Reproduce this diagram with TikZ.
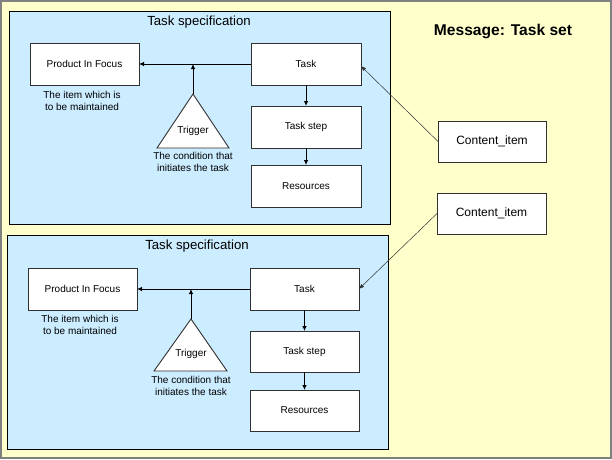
\documentclass[tikz,border=0pt]{standalone}
\usepackage{fontspec}
\setmainfont{Liberation Sans}
\usetikzlibrary{arrows.meta}
\definecolor{bgyellow}{HTML}{FFFFCC}
\definecolor{panelblue}{HTML}{CCECFF}
\definecolor{framegray}{HTML}{808080}
\definecolor{boxline}{HTML}{303030}
\tikzset{
  boxnode/.style={draw=boxline, line width=0.9pt, fill=white, inner sep=0pt, outer sep=0pt,
    minimum width=109pt, minimum height=42pt, font=\fontsize{10}{11}\selectfont},
  cinode/.style={boxnode, minimum width=108pt, minimum height=41pt, font=\fontsize{12}{14}\selectfont},
  capnode/.style={align=center, inner sep=0pt, font=\fontsize{10}{12}\selectfont},
  titlenode/.style={inner sep=0pt, font=\fontsize{13.2}{15}\selectfont},
  panel/.style={draw=black, line width=0.9pt, fill=panelblue},
  trianglestyle/.style={draw=boxline, line width=0.9pt, fill=white},
  flowarrow/.style={draw=black, line width=0.8pt, -{Latex[length=5pt,width=4.5pt]}},
  linkarrow/.style={draw=boxline, line width=0.5pt, -{Latex[length=5pt,width=4pt]}}
}
\begin{document}
\begin{tikzpicture}[x=1pt,y=-1pt]
\useasboundingbox (0,0) rectangle (612,459);
% outer frame
\draw[fill=bgyellow, draw=framegray, line width=2pt] (1,1) rectangle (611,458);
\node[inner sep=0pt, font=\fontsize{15.6}{17}\selectfont\bfseries] (msg) at (503,31) {Message: Task set};

% ---------- top panel ----------
\draw[panel] (9,11) rectangle (390,224);
\node[titlenode] (title1) at (199,22) {Task specification};
\node[boxnode] (pif1) at (84.5,64) {Product In Focus};
\node[capnode] (pifcap1) at (82,101) {The item which is\\to be maintained};
\node[boxnode, minimum width=110pt] (task1) at (306,64) {Task};
\node[boxnode, minimum width=110pt] (step1) at (306,127) {Task step};
\node[boxnode, minimum width=110pt] (res1) at (306,186) {Resources};
\coordinate (apex1) at (193,94);
\draw[trianglestyle] (apex1) -- (229,148) -- (157,148) -- cycle;
\node[capnode] (trig1) at (193,131) {Trigger};
\node[capnode] (trigcap1) at (193,162) {The condition that\\initiates the task};
\draw[flowarrow] (task1.west) -- (pif1.east);
\draw[flowarrow] (apex1) -- (apex1 |- task1.west);
\draw[flowarrow] (task1.south) -- (step1.north);
\draw[flowarrow] (step1.south) -- (res1.north);

% ---------- bottom panel ----------
\draw[panel] (7,235) rectangle (388,449);
\node[titlenode] (title2) at (197,246) {Task specification};
\node[boxnode] (pif2) at (82.5,289) {Product In Focus};
\node[capnode] (pifcap2) at (80,325) {The item which is\\to be maintained};
\node[boxnode] (task2) at (304.5,289) {Task};
\node[boxnode, minimum height=41pt] (step2) at (304.5,351.5) {Task step};
\node[boxnode, minimum height=41pt] (res2) at (304.5,410.5) {Resources};
\coordinate (apex2) at (191,319);
\draw[trianglestyle] (apex2) -- (227,371) -- (154,371) -- cycle;
\node[capnode] (trig2) at (191,354) {Trigger};
\node[capnode] (trigcap2) at (191,386) {The condition that\\initiates the task};
\draw[flowarrow] (task2.west) -- (pif2.east);
\draw[flowarrow] (apex2) -- (apex2 |- task2.west);
\draw[flowarrow] (task2.south) -- (step2.north);
\draw[flowarrow] (step2.south) -- (res2.north);

% ---------- content items ----------
\node[cinode] (ci1) at (492,141.5) {Content\_item};
\node[cinode, minimum width=109pt] (ci2) at (491.5,213.5) {Content\_item};
\draw[linkarrow] (ci1.west) -- ([yshift=-2pt]task1.east);
\draw[linkarrow] (ci2.west) -- (task2.east);
\end{tikzpicture}
\end{document}
